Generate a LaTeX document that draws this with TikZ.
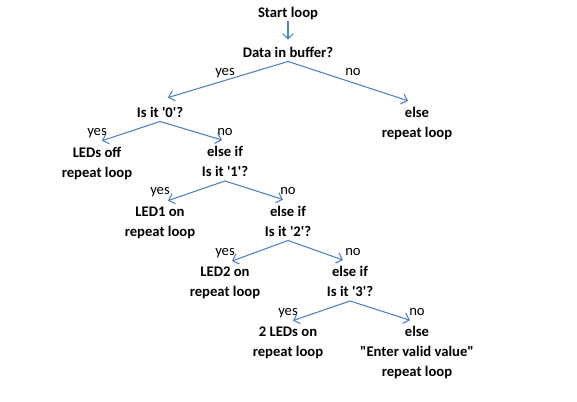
\documentclass[tikz,border=0pt]{standalone}
\usepackage{fontspec}
\setmainfont{Carlito}
\usetikzlibrary{arrows.meta, calc}
\definecolor{flowblue}{RGB}{79,129,189}

\begin{document}
\begin{tikzpicture}[x=0.75pt, y=-0.75pt,
    stepbox/.style={font=\fontsize{11}{15}\selectfont\bfseries, align=center, inner sep=3pt},
    answer/.style={font=\fontsize{11}{15}\selectfont, inner sep=0pt},
    flow/.style={draw=flowblue, line width=0.8pt, -{Straight Barb[length=4pt, width=8pt]}}]
    \useasboundingbox (0,0) rectangle (577,401);

    % steps of the loop
    \node[stepbox] (start) at (288,13.5) {Start loop};
    \node[stepbox] (data) at (288,52) {Data in buffer?};
    \node[stepbox] (zero) at (160,112) {Is it \textquotesingle0\textquotesingle?};
    \node[stepbox] (nodata) at (417,123.3) {else\\repeat loop};
    \node[stepbox] (ledsoff) at (97,163.3) {LEDs off\\repeat loop};
    \node[stepbox] (one) at (225,161.5) {else if\\Is it \textquotesingle1\textquotesingle?};
    \node[stepbox] (ledone) at (160,222.8) {LED1 on\\repeat loop};
    \node[stepbox] (two) at (288,221) {else if\\Is it \textquotesingle2\textquotesingle?};
    \node[stepbox] (ledtwo) at (225,283.3) {LED2 on\\repeat loop};
    \node[stepbox] (three) at (350,281.5) {else if\\Is it \textquotesingle3\textquotesingle?};
    \node[stepbox] (bothleds) at (288,342.8) {2 LEDs on\\repeat loop};
    \node[stepbox] (invalid) at (417,352.8) {else\\\textquotedbl Enter valid value\textquotedbl\\repeat loop};

    % yes / no answers
    \node[answer] (yesdata) at (225,73.5) {yes};
    \node[answer] (nodataans) at (353,72) {no};
    \node[answer] (yeszero) at (97,133.5) {yes};
    \node[answer] (nozero) at (225,132) {no};
    \node[answer] (yesone) at (160,192.5) {yes};
    \node[answer] (noone) at (288,191) {no};
    \node[answer] (yestwo) at (225,253.5) {yes};
    \node[answer] (notwo) at (353,252) {no};
    \node[answer] (yesthree) at (288,313.5) {yes};
    \node[answer] (nothree) at (417,312) {no};

    % connectors
    \draw[flow] ($(start.south)+(0,-3)$) -- ($(data.north)+(0,-3)$);
    \draw[flow] (data.south) -- ($(zero.north)+(8,-5)$);
    \draw[flow] (data.south) -- ($(nodata.north)+(-9,-2)$);
    \draw[flow] (zero.south) -- ($(ledsoff.north)+(5,-2)$);
    \draw[flow] (zero.south) -- ($(one.north)+(-3,-2)$);
    \draw[flow] (one.south) -- ($(ledone.north)+(8,-2)$);
    \draw[flow] (one.south) -- ($(two.north)+(-5,-2)$);
    \draw[flow] (two.south) -- ($(ledtwo.north)+(7,-2)$);
    \draw[flow] (two.south) -- ($(three.north)+(-7,-2)$);
    \draw[flow] (three.south) -- ($(bothleds.north)+(5,-2)$);
    \draw[flow] (three.south) -- ($(invalid.north)+(-7,-2)$);
\end{tikzpicture}
\end{document}
